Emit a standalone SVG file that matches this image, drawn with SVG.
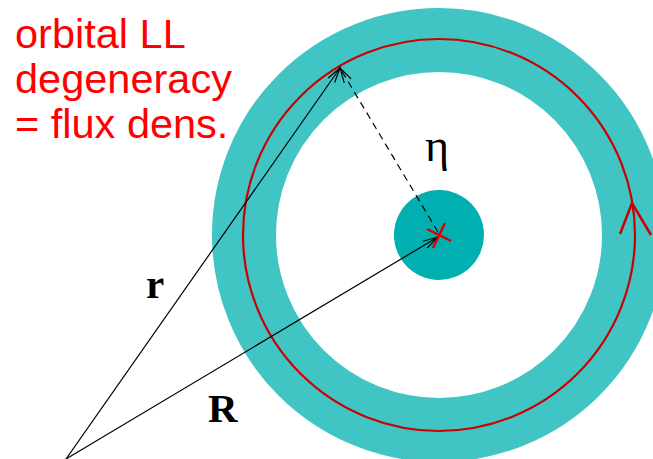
<svg xmlns="http://www.w3.org/2000/svg" width="653" height="459" viewBox="0 0 653 459">
<style>
.lbl{font-family:"Liberation Serif","Times New Roman",serif;font-size:41px;fill:#000}
.red{font-family:"Liberation Sans",Arial,sans-serif;font-size:41.5px;fill:#FF0000}
.vec{stroke:#000;stroke-width:1.2;fill:none}
</style>
<defs>
<marker id="open" markerUnits="userSpaceOnUse" markerWidth="20" markerHeight="12" viewBox="-16 -6 18 12" refX="0" refY="0" orient="auto">
<path d="M-15,-4 L0,0 L-15,4" fill="none" stroke="#000" stroke-width="1.2"/>
</marker>
</defs>
<rect width="653" height="459" fill="#fff"/>
<g id="ring">
<circle cx="439" cy="235" r="195" fill="none" stroke="#40C4C4" stroke-width="64"/>
</g>
<g id="core">
<circle cx="439" cy="235" r="45" fill="#00B0B0"/>
</g>
<g id="orbit">
<circle cx="439" cy="235" r="196" fill="none" stroke="#CC0000" stroke-width="2.2"/>
<path d="M620,234 L632,203 L651,235" fill="none" stroke="#CC0000" stroke-width="2.5"/>
</g>
<g id="connectors">
<line class="vec" x1="66" y1="459" x2="340" y2="68" marker-end="url(#open)"/>
<line class="vec" x1="66" y1="459" x2="438" y2="237" marker-end="url(#open)"/>
<line class="vec" x1="438" y1="232" x2="340" y2="68" stroke-dasharray="7,5" marker-end="url(#open)"/>
</g>
<g id="cross">
<path d="M427,229 L451,241 M445,223 L433,248" stroke="#DD0000" stroke-width="2.5" fill="none"/>
</g>
<g id="labels">
<text class="lbl" x="146" y="298" font-weight="bold">r</text>
<text class="lbl" x="208" y="422" font-weight="bold">R</text>
<text class="lbl" x="425" y="161" style="font-size:46px">η</text>
</g>
<g id="note">
<text class="red" x="15" y="48">orbital LL</text>
<text class="red" x="15" y="93">degeneracy</text>
<text class="red" x="15" y="138">= flux dens.</text>
</g>
</svg>
